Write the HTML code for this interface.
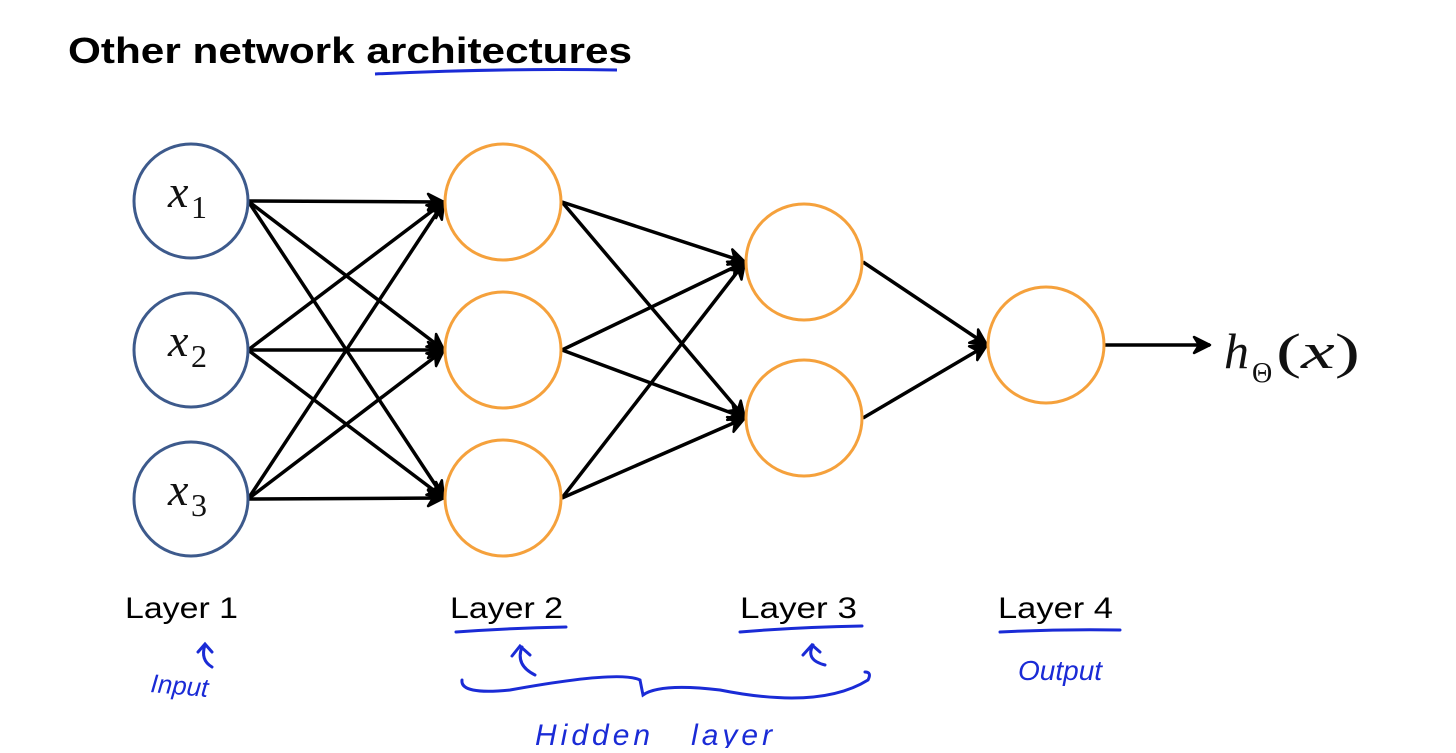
<!DOCTYPE html>
<html><head><style>
body{margin:0;background:#fff;width:1456px;height:748px;overflow:hidden}
</style></head><body>
<svg width="1456" height="748" viewBox="0 0 1456 748" xmlns="http://www.w3.org/2000/svg">
<defs>
<marker id="b" markerWidth="20" markerHeight="20" refX="18" refY="10" orient="auto" markerUnits="userSpaceOnUse" viewBox="0 0 20 20">
<path d="M2,2 L18,10 L2,18 L7,10 Z" fill="#000" stroke="#000" stroke-width="2.5" stroke-linejoin="round"/>
</marker>
</defs>
<text x="68" y="63" font-family="Liberation Sans, sans-serif" font-weight="bold" font-size="36" fill="#000" textLength="564" lengthAdjust="spacingAndGlyphs">Other network architectures</text>
<path d="M375,74 Q500,68 617,70" stroke="#1a2bd6" stroke-width="3" fill="none"/>
<g stroke="#000" stroke-width="3.5" fill="none" marker-end="url(#b)">
<line x1="248" y1="201" x2="444" y2="202"/>
<line x1="248" y1="201" x2="444" y2="350"/>
<line x1="248" y1="201" x2="444" y2="498"/>
<line x1="248" y1="350" x2="444" y2="202"/>
<line x1="248" y1="350" x2="444" y2="350"/>
<line x1="248" y1="350" x2="444" y2="498"/>
<line x1="248" y1="499" x2="444" y2="202"/>
<line x1="248" y1="499" x2="444" y2="350"/>
<line x1="248" y1="499" x2="444" y2="498"/>
<line x1="562" y1="202" x2="745" y2="262"/>
<line x1="562" y1="202" x2="745" y2="418"/>
<line x1="562" y1="350" x2="745" y2="262"/>
<line x1="562" y1="350" x2="745" y2="418"/>
<line x1="562" y1="498" x2="745" y2="262"/>
<line x1="562" y1="498" x2="745" y2="418"/>
<line x1="863" y1="262" x2="987" y2="345"/>
<line x1="863" y1="418" x2="987" y2="345"/>
<line x1="1105" y1="345" x2="1210" y2="345"/>
</g>
<g fill="#fff" stroke="#3d5a8c" stroke-width="3">
<circle cx="191" cy="201" r="57"/><circle cx="191" cy="350" r="57"/><circle cx="191" cy="499" r="57"/>
</g>
<g fill="#fff" stroke="#f5a13c" stroke-width="3">
<circle cx="503" cy="202" r="58"/><circle cx="503" cy="350" r="58"/><circle cx="503" cy="498" r="58"/>
<circle cx="804" cy="262" r="58"/><circle cx="804" cy="418" r="58"/>
<circle cx="1046" cy="345" r="58"/>
</g>
<g font-family="Liberation Serif, serif" fill="#111">
<text x="168" y="207" font-size="46" font-style="italic">x</text><text x="191" y="218" font-size="32">1</text>
<text x="168" y="356" font-size="46" font-style="italic">x</text><text x="191" y="367" font-size="32">2</text>
<text x="168" y="505" font-size="46" font-style="italic">x</text><text x="191" y="516" font-size="32">3</text>
<text x="1224" y="368" font-size="50" font-style="italic">h</text><text x="1252" y="382" font-size="28">Θ</text><text x="1276" y="368" font-size="50" textLength="84" lengthAdjust="spacingAndGlyphs">(<tspan font-style="italic">x</tspan>)</text>
</g>
<g font-family="Liberation Sans, sans-serif" font-size="30" fill="#000">
<text x="125" y="618" textLength="113" lengthAdjust="spacingAndGlyphs">Layer 1</text>
<text x="450" y="618" textLength="113" lengthAdjust="spacingAndGlyphs">Layer 2</text>
<text x="740" y="618" textLength="117" lengthAdjust="spacingAndGlyphs">Layer 3</text>
<text x="998" y="618" textLength="115" lengthAdjust="spacingAndGlyphs">Layer 4</text>
</g>
<g stroke="#1a2bd6" stroke-width="3" fill="none" stroke-linecap="round">
<path d="M456,632 Q510,628 566,627"/>
<path d="M740,632 Q800,627 862,626"/>
<path d="M1000,632 Q1060,629 1120,630"/>
<path d="M212,667 Q200,660 205,645 M198,652 L205,644 L212,652"/>
<path d="M535,675 Q515,665 522,647 M512,656 L520,646 L530,655"/>
<path d="M825,665 Q805,660 813,645 M803,655 L812,645 L820,652"/>
<path d="M462,680 Q460,695 510,690 Q620,670 640,680 L643,695 Q660,683 720,690 Q820,710 868,680 Q872,672 865,672"/>
</g>
<g font-family="Liberation Sans, sans-serif" fill="#1a2bd6" font-style="italic">
<text x="150" y="692" font-size="26" transform="rotate(5 150 692)">Input</text>
<text x="1018" y="680" font-size="28">Output</text>
<text x="535" y="745" font-size="30" letter-spacing="4">Hidden&#160;&#160;&#160;layer</text>
</g>
</svg>
</body></html>
